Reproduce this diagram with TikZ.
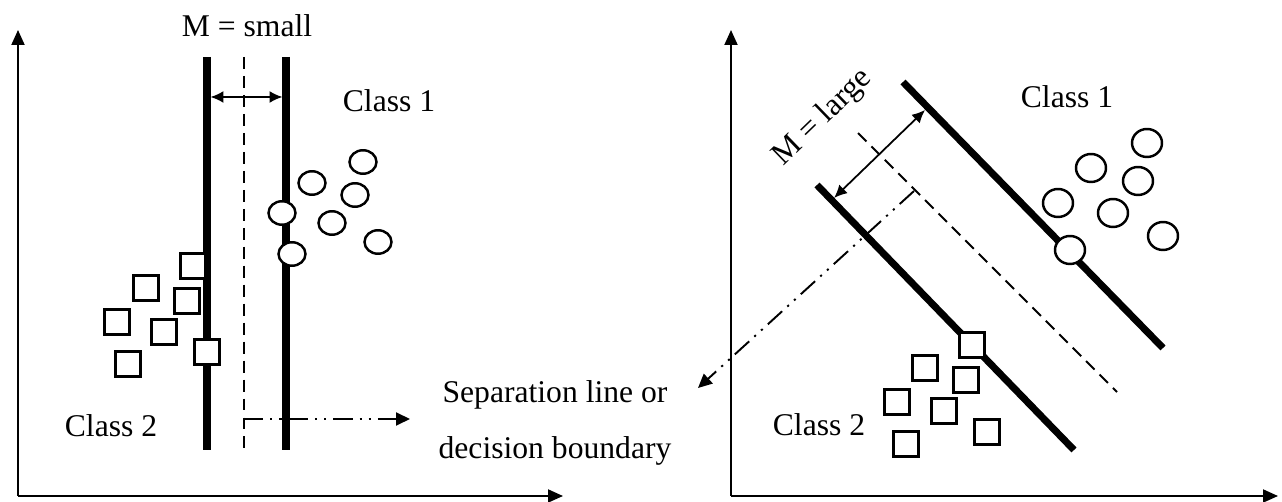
\documentclass[tikz,border=0pt]{standalone}
\usepackage{fontspec}
\setmainfont{Liberation Serif}
\usetikzlibrary{graphs,arrows.meta,shapes.geometric}

\begin{document}
\begin{tikzpicture}[x=0.02cm,y=-0.02cm,font=\fontsize{18}{22}\selectfont,
	axis/.style={line width=1.1pt,>={Triangle[length=3mm,width=2.6mm]}},
	boundary/.style={line width=4pt},
	midline/.style={line width=1.1pt,dash pattern=on 6.8pt off 4pt},
	margin/.style={line width=1pt,>={Latex[length=2.6mm,width=2.4mm]}},
	pointer/.style={line width=1.1pt,dash pattern=on 11pt off 4pt on 1.2pt off 4pt on 1.2pt off 4pt,>={Triangle[length=2.8mm,width=2.6mm]}},
	circ/.style={draw,ellipse,fill=white,line width=1.4pt,inner sep=0pt,minimum width=0.54cm,minimum height=0.47cm},
	bigcirc/.style={circ,minimum width=0.6cm,minimum height=0.56cm},
	sq/.style={draw,rectangle,fill=white,line width=1.3pt,inner sep=0pt,minimum size=0.5cm}]

	\useasboundingbox (0,0) rectangle (1282,502);

	\coordinate (o1) at (18,496);
	\coordinate (y1) at (18,30);
	\coordinate (x1) at (563,496);
	\coordinate (la) at (207,57);
	\coordinate (lb) at (207,450);
	\coordinate (ra) at (286,57);
	\coordinate (rb) at (286,450);
	\coordinate (ma) at (244,57);
	\coordinate (mb) at (244,450);
	\coordinate (wa) at (210.5,97);
	\coordinate (wb) at (282.5,97);
	\coordinate (pa) at (244,419);
	\coordinate (pb) at (410,419);

	\coordinate (o2) at (731,496);
	\coordinate (y2) at (731,30);
	\coordinate (x2) at (1278,496);
	\coordinate (ua) at (903,82);
	\coordinate (ub) at (1163,348);
	\coordinate (da) at (817,185);
	\coordinate (db) at (1074,450);
	\coordinate (na) at (858,133);
	\coordinate (nb) at (1117,392);
	\coordinate (va) at (834,198);
	\coordinate (vb) at (925,110);
	\coordinate (qa) at (914,191);
	\coordinate (qb) at (698,388);


\graph {(o1) ->[axis] {(y1), (x1)}};
\graph {(la) --[boundary] (lb)};
\graph {(ra) --[boundary] (rb)};
\graph {(ma) --[midline] (mb)};
\graph {(wa) <->[margin] (wb)};
\graph {(pa) ->[pointer] (pb)};

\graph {(o2) ->[axis] {(y2), (x2)}};
\graph {(ua) --[boundary] (ub)};
\graph {(da) --[boundary] (db)};
\graph {(na) --[midline] (nb)};
\graph {(va) <->[margin] (vb)};
\graph {(qa) ->[pointer] (qb)};


	\node [name=c1,circ] at (363,162) {};
	\node [name=c2,circ] at (312,183) {};
	\node [name=c3,circ] at (355,195) {};
	\node [name=c4,circ] at (282,213) {};
	\node [name=c5,circ] at (332,223) {};
	\node [name=c6,circ] at (378,242) {};
	\node [name=c7,circ] at (292,254) {};

	\node [name=s1,sq] at (193,266) {};
	\node [name=s2,sq] at (146,288) {};
	\node [name=s3,sq] at (187,301) {};
	\node [name=s4,sq] at (117,322) {};
	\node [name=s5,sq] at (164,332) {};
	\node [name=s6,sq] at (207,352) {};
	\node [name=s7,sq] at (128,364) {};

	\node [name=d1,bigcirc] at (1147,143) {};
	\node [name=d2,bigcirc] at (1091,168) {};
	\node [name=d3,bigcirc] at (1138,181) {};
	\node [name=d4,bigcirc] at (1058,203) {};
	\node [name=d5,bigcirc] at (1113,213) {};
	\node [name=d6,bigcirc] at (1163,236) {};
	\node [name=d7,bigcirc] at (1070,250) {};

	\node [name=t1,sq] at (972,345) {};
	\node [name=t2,sq] at (925,368) {};
	\node [name=t3,sq] at (966,380) {};
	\node [name=t4,sq] at (897,402) {};
	\node [name=t5,sq] at (944,411) {};
	\node [name=t6,sq] at (987,432) {};
	\node [name=t7,sq] at (906,444) {};


\node [name=small,anchor=base] at (247,37) {M = small};
\node [name=large,rotate=44] at (823,118) {M = large};
\node [name=classa,anchor=base] at (389,112) {Class 1};
\node [name=classb,anchor=base] at (111,437) {Class 2};
\node [name=classc,anchor=base] at (1067,108) {Class 1};
\node [name=classd,anchor=base] at (819,436) {Class 2};
\node [name=sepa,anchor=base] at (555,403) {Separation line or};
\node [name=sepb,anchor=base] at (555,459) {decision boundary};

	\end{tikzpicture}
\end{document}
